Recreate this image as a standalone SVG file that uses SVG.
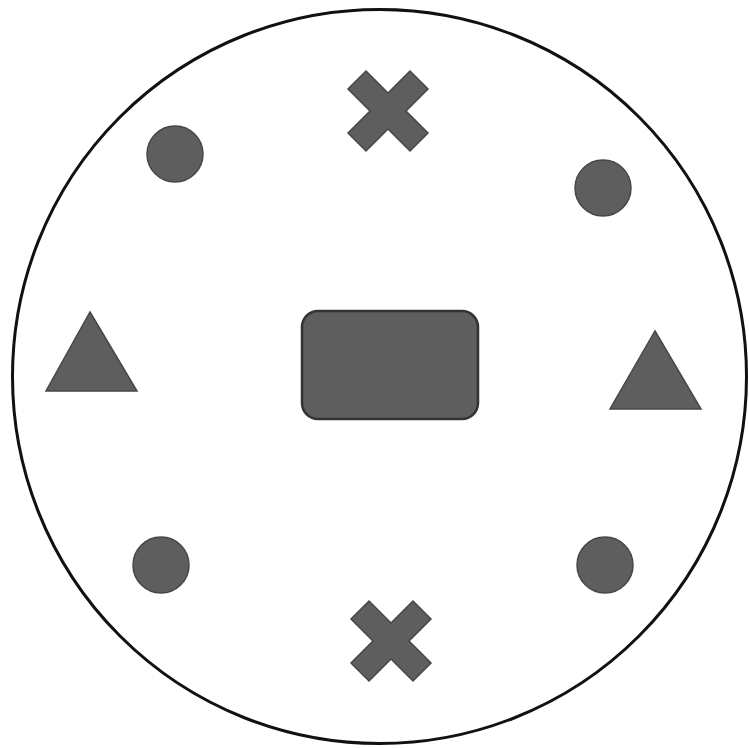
<svg xmlns="http://www.w3.org/2000/svg" width="749" height="748" viewBox="0 0 749 748">
<style>
.shape{fill:#5e5e5e;stroke:#474747;stroke-width:1.5}
.outer{fill:#ffffff;stroke:#111111;stroke-width:3}
</style>
<defs>
<polygon id="xmark" class="shape" points="0,-18 22,-40 40,-22 18,0 40,22 22,40 0,18 -22,40 -40,22 -18,0 -40,-22 -22,-40"/>
</defs>
<rect width="749" height="748" fill="#ffffff"/>
<g id="boundary"><circle cx="379.5" cy="376.5" r="367" class="outer"/></g>
<g id="center-rect"><rect x="302" y="311" width="176" height="108" rx="16" class="shape" style="stroke:#333;stroke-width:2.5"/></g>
<g id="x-top"><use href="#xmark" transform="translate(388,111)"/></g>
<g id="x-bottom"><use href="#xmark" transform="translate(391,641)"/></g>
<g id="circle-tl"><circle cx="175" cy="154" r="28" class="shape"/></g>
<g id="circle-tr"><circle cx="603" cy="188" r="28" class="shape"/></g>
<g id="circle-bl"><circle cx="161" cy="565" r="28" class="shape"/></g>
<g id="circle-br"><circle cx="605" cy="565" r="28" class="shape"/></g>
<g id="triangle-left"><polygon points="90,312 137,391 46,391" class="shape"/></g>
<g id="triangle-right"><polygon points="655,331 701,409 610,409" class="shape"/></g>
<g id="connectors"></g>
</svg>
